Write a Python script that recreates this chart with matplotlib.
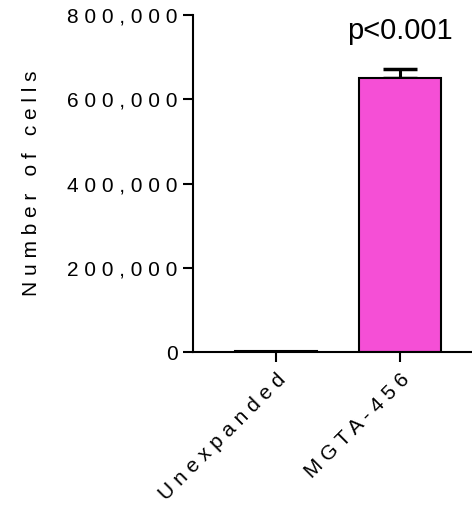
import matplotlib.pyplot as plt
from matplotlib.ticker import FuncFormatter

plt.rcParams["font.family"] = ["Liberation Sans", "DejaVu Sans"]

groups = ["Unexpanded", "MGTA-456"]
cells = [3000, 650000]
err_up = [0, 22000]
colors = ["white", "#f54fd6"]


def spaced(s):
    return " ".join(s)


fig = plt.figure(figsize=(4.72, 5.14), dpi=100)
ax = fig.add_axes([193 / 472, 1 - 352 / 514, 1 - 193 / 472, (352 - 15) / 514])

x = list(range(len(groups)))
ax.bar(x, cells, width=0.66, color=colors, edgecolor="black", linewidth=1.5, zorder=2)
ax.errorbar(x[1], cells[1], yerr=[[0], [err_up[1]]], fmt="none", ecolor="black",
            elinewidth=2.2, capsize=12, capthick=2.5, zorder=1)

ax.set_xlim(-0.67, 1.58)
ax.set_ylim(0, 800000)
ax.set_yticks([0, 200000, 400000, 600000, 800000])
ax.yaxis.set_major_formatter(FuncFormatter(lambda v, p: spaced(f"{int(v):,}")))
ax.set_xticks(x)
ax.set_xticklabels([spaced(g) for g in groups], rotation=45, ha="right",
                   rotation_mode="anchor", fontsize=15)
ax.tick_params(axis="y", labelsize=15, length=7, width=1.5, pad=4)
ax.tick_params(axis="x", length=7, width=1.5, pad=6)
ax.set_ylabel("N u m b e r   o f   c e l l s", fontsize=15, labelpad=19)

for s in ["top", "right"]:
    ax.spines[s].set_visible(False)
for s in ["left", "bottom"]:
    ax.spines[s].set_linewidth(1.5)

ax.text(1, 762000, "p<0.001", ha="center", va="center", fontsize=21)

fig.savefig("out.png", dpi=100)
